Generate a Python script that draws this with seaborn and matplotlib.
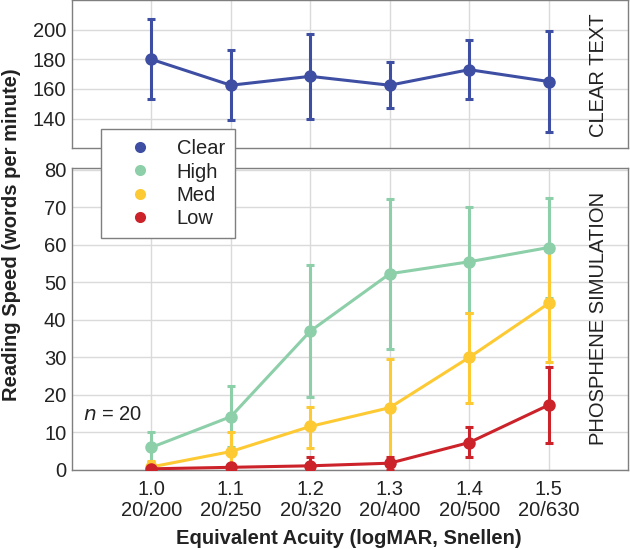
import numpy as np
import pandas as pd
import matplotlib
matplotlib.use('Agg')
import matplotlib.pyplot as plt
import seaborn as sns
from matplotlib.lines import Line2D

# ── DATA ─────────────────────────────────────────────────────────────────────

acuity   = [1.0, 1.1, 1.2, 1.3, 1.4, 1.5]
snellen  = ['20/200', '20/250', '20/320', '20/400', '20/500', '20/630']

clear_mean = [180, 162.5, 168.5, 162.5, 173, 165]
clear_lo   = [153, 139, 140, 147, 153, 131]
clear_hi   = [207, 186, 197, 178, 193, 199]

high_mean = [6, 14.2, 37, 52.3, 55.5, 59.3]
high_lo   = [2, 6.2, 19.5, 32.3, 41.8, 45.9]
high_hi   = [10, 22.4, 54.7, 72.3, 70, 72.4]

med_mean = [0.8, 4.9, 11.6, 16.6, 30, 44.4]
med_lo   = [0, 0, 5.9, 2.5, 17.8, 28.9]
med_hi   = [2.4, 10.2, 16.9, 29.5, 41.8, 59.5]

low_mean = [0.3, 0.7, 1.1, 1.8, 7.3, 17.3]
low_lo   = [0, 0, 0, 0, 3.4, 7.1]
low_hi   = [1.2, 1.5, 3.4, 3.5, 11.5, 27.4]

colors = {'Clear': '#3d4ea3', 'High': '#8ccfa9', 'Med': '#fdca33', 'Low': '#cc2229'}

# ── STYLE ────────────────────────────────────────────────────────────────────

FS = 14.5
TXT = '#222222'

sns.set_theme(style='whitegrid')
plt.rcParams['font.family'] = ['Liberation Sans', 'DejaVu Sans']
plt.rcParams['grid.color'] = '#dadada'

fig = plt.figure(figsize=(6.3, 5.49), dpi=100)
ax_top = fig.add_axes([0.114, 0.730, 0.883, 0.270])
ax_bot = fig.add_axes([0.114, 0.144, 0.883, 0.550])


def draw(ax, name, mean, lo, hi):
    df = pd.DataFrame({'x': acuity, 'y': mean})
    err = [np.array(mean) - np.array(lo), np.array(hi) - np.array(mean)]
    ax.errorbar(acuity, mean, yerr=err, fmt='none', ecolor=colors[name],
                elinewidth=2.2, capsize=3, capthick=2.2, zorder=3)
    sns.lineplot(data=df, x='x', y='y', ax=ax, color=colors[name], lw=2.2,
                 marker='o', markersize=9, markeredgewidth=0, zorder=4)


draw(ax_top, 'Clear', clear_mean, clear_lo, clear_hi)
draw(ax_bot, 'High', high_mean, high_lo, high_hi)
draw(ax_bot, 'Med', med_mean, med_lo, med_hi)
draw(ax_bot, 'Low', low_mean, low_lo, low_hi)

for ax in (ax_top, ax_bot):
    ax.set_xlim(0.9, 1.6)
    ax.set_xticks(acuity)
    ax.set_xlabel('')
    ax.set_ylabel('')
    ax.tick_params(axis='both', labelsize=FS, labelcolor=TXT, length=0)
    ax.tick_params(axis='y', pad=4)
    ax.tick_params(axis='x', pad=7)
    for s in ax.spines.values():
        s.set_color('#7f7f7f')
        s.set_linewidth(1.0)

ax_top.set_ylim(120, 220)
ax_top.set_yticks([140, 160, 180, 200])
ax_top.set_xticklabels([])

ax_bot.set_ylim(0, 80.5)
ax_bot.set_yticks(range(0, 81, 10))
ax_bot.set_xticklabels([f'{a:.1f}\n{s}' for a, s in zip(acuity, snellen)],
                       linespacing=1.15)

ax_top.text(1.563, 169, 'CLEAR TEXT', rotation=90, ha='center', va='center',
            fontsize=FS, color=TXT)
ax_bot.text(1.563, 40.5, 'PHOSPHENE SIMULATION', rotation=90, ha='center',
            va='center', fontsize=FS, color=TXT)
ax_bot.text(0.914, 14.7, r'$n$ = 20', fontsize=FS, ha='left', va='center',
            color=TXT)

fig.text(0.018, 0.572, 'Reading Speed (words per minute)', rotation=90,
         ha='center', va='center', fontsize=FS, fontweight='bold', color=TXT)
fig.text(0.554, 0.020, 'Equivalent Acuity (logMAR, Snellen)',
         ha='center', va='center', fontsize=FS, fontweight='bold', color=TXT)

handles = [Line2D([], [], ls='none', marker='o', markersize=8,
                  markeredgewidth=0, color=colors[k]) for k in colors]
leg = fig.legend(handles, list(colors), loc='upper left',
                 bbox_to_anchor=(101 / 630, 1 - 129 / 549), borderaxespad=0,
                 fontsize=FS, frameon=True, fancybox=False, framealpha=1,
                 handletextpad=0.35, labelspacing=0.22, borderpad=0.5,
                 handlelength=2.9)
leg.get_frame().set_edgecolor('#7f7f7f')
leg.get_frame().set_linewidth(1.0)
for t in leg.get_texts():
    t.set_color(TXT)
leg.set_zorder(10)

fig.savefig('out.png', dpi=100)
